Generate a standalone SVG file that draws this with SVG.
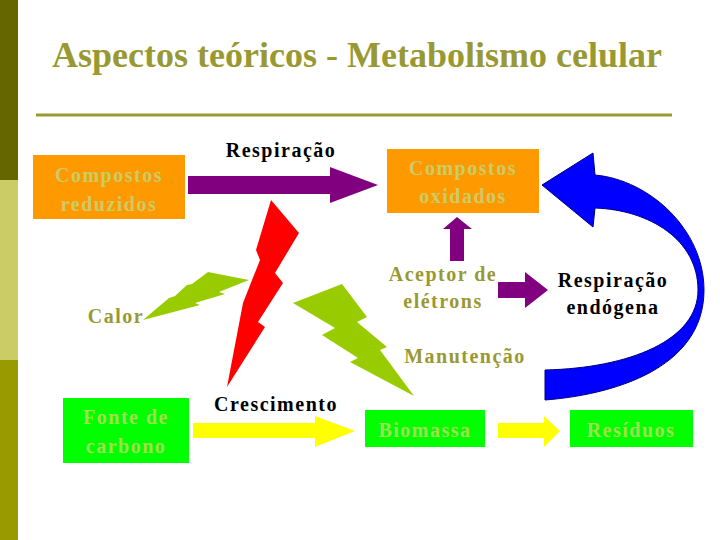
<svg xmlns="http://www.w3.org/2000/svg" width="720" height="540" viewBox="0 0 720 540">
<style>
.t{font-family:"Liberation Serif","Times New Roman",serif;font-weight:bold;font-size:20px;letter-spacing:1.5px;text-anchor:middle}
.blk{fill:#000}
.olv{fill:#999933}
.pale{fill:#CCCC66}
.lg{fill:#A0E050}
.org{fill:#FF9900}
.grn{fill:#00FF00}
.pur{fill:#800080}
.yel{fill:#FFFF00}
.lime{fill:#99CC00}
</style>
<rect width="720" height="540" fill="#fff"/>
<g id="sidebar">
<rect x="0" y="0" width="18" height="180" fill="#666600"/>
<rect x="0" y="180" width="18" height="180" fill="#CCCC66"/>
<rect x="0" y="360" width="18" height="180" fill="#999900"/>
</g>
<g id="title">
<text x="357" y="67" font-family="Liberation Serif,serif" font-weight="bold" font-size="36" fill="#999933" text-anchor="middle">Aspectos teóricos - Metabolismo celular</text>
<line x1="36" y1="115" x2="672" y2="115" stroke="#999933" stroke-width="3"/>
</g>
<g id="connectors">
<polygon class="pur" points="188,176 330,176 330,167 378,185 330,203 330,194 188,194"/>
<polygon class="pur" points="450,261 450,229 443,229 457,217 472,229 464,229 464,261"/>
<polygon class="pur" points="498,282 525,282 525,272 548,290 525,308 525,298 498,298"/>
<polygon class="yel" points="193,423 315,423 315,416 355,431 315,447 315,438 193,438"/>
<polygon class="yel" points="498,423 544,423 544,416 560,431 544,447 544,438 498,438"/>
<path d="M542,185 L593,153 L595,175 C650,180 704,230 704,290 C704,370 610,395 545,400 L545,370 C630,368 698,340 698,290 C698,240 650,210 595,208 L593,227 Z" fill="#0000FF" stroke="#000080" stroke-width="1"/>
<polygon fill="#FF0000" points="271,200 299,233 275,273 283,283 258,322 265,327 227,387 243,303 260,260 256,250"/>
<polygon class="lime" points="143,320 169,298 175,296 187,285 192,284 208,272 249,280 219,292 225,294 195,303 200,305"/>
<polygon class="lime" points="293,303 342,284 367,317 357,322 387,347 380,350 414,396 350,362 358,358 322,335 335,328"/>
</g>
<g id="resp-label"><text class="t blk" x="281" y="157">Respiração</text></g>
<g id="compostos-reduzidos">
<rect class="org" x="33" y="155" width="152" height="64"/>
<text class="t pale" x="109" y="182">Compostos</text>
<text class="t pale" x="109" y="211">reduzidos</text>
</g>
<g id="compostos-oxidados">
<rect class="org" x="387" y="149" width="152" height="64"/>
<text class="t pale" x="463" y="175">Compostos</text>
<text class="t pale" x="463" y="203">oxidados</text>
</g>
<g id="aceptor">
<text class="t olv" x="443" y="281">Aceptor de</text>
<text class="t olv" x="443" y="308">elétrons</text>
</g>
<g id="resp-endogena">
<text class="t blk" x="613" y="287">Respiração</text>
<text class="t blk" x="613" y="314">endógena</text>
</g>
<g id="calor"><text class="t olv" x="116" y="323">Calor</text></g>
<g id="manutencao"><text class="t olv" x="465" y="363">Manutenção</text></g>
<g id="crescimento"><text class="t blk" x="276" y="411">Crescimento</text></g>
<g id="fonte-carbono">
<rect class="grn" x="63" y="398" width="126" height="65"/>
<text class="t lg" x="126" y="424">Fonte de</text>
<text class="t lg" x="126" y="453">carbono</text>
</g>
<g id="biomassa">
<rect class="grn" x="365" y="410" width="120" height="37"/>
<text class="t lg" x="425" y="437">Biomassa</text>
</g>
<g id="residuos">
<rect class="grn" x="570" y="410" width="123" height="37"/>
<text class="t lg" x="631" y="437">Resíduos</text>
</g>
</svg>
